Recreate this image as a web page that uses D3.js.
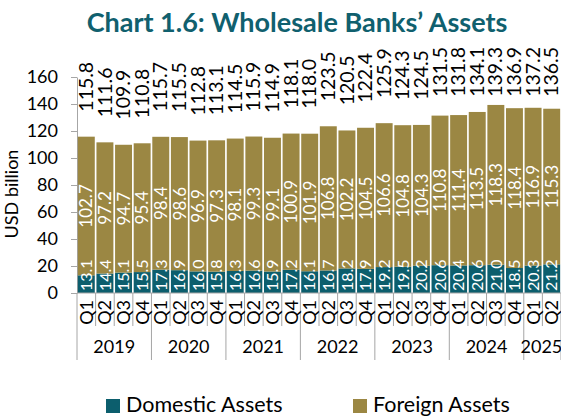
<!DOCTYPE html>
<html>
<head>
<meta charset="utf-8">
<script src="https://cdn.jsdelivr.net/npm/d3@7"></script>
<style>
  body { margin: 0; background: #fff; }
  svg { display: block; font-family: Lato, "Open Sans", sans-serif; }
</style>
</head>
<body>
<svg id="chart" width="561" height="418"></svg>
<script>
// quarters from 2019 Q1 to 2025 Q2
var quarters = ["Q1","Q2","Q3","Q4","Q1","Q2","Q3","Q4","Q1","Q2","Q3","Q4","Q1","Q2","Q3","Q4",
                "Q1","Q2","Q3","Q4","Q1","Q2","Q3","Q4","Q1","Q2"];
var years = ["2019","2020","2021","2022","2023","2024","2025"];
var domestic = [13.1,14.4,15.1,15.5,17.3,16.9,16.0,15.8,16.3,16.6,15.9,17.2,16.1,16.7,18.2,17.9,
                19.2,19.5,20.2,20.6,20.4,20.6,21.0,18.5,20.3,21.2];
var foreign = [102.7,97.2,94.7,95.4,98.4,98.6,96.9,97.3,98.1,99.3,99.1,100.9,101.9,106.8,102.2,104.5,
               106.6,104.8,104.3,110.8,111.4,113.5,118.3,118.4,116.9,115.3];
var totals = [115.8,111.6,109.9,110.8,115.7,115.5,112.8,113.1,114.5,115.9,114.9,118.1,118.0,123.5,120.5,122.4,
              125.9,124.3,124.5,131.5,131.8,134.1,139.3,136.9,137.2,136.5];
var yTicks = [0,20,40,60,80,100,120,140,160];

var colDom = "#0c5e6d", colFor = "#9b8743", axisCol = "#a6a6a6";

var rows = quarters.map(function(q, i) {
    return {id: i, q: q, year: years[Math.floor(i / 4)], domestic: domestic[i], foreign: foreign[i], total: totals[i]};
});

var svg = d3.select("#chart");

var x = d3.scaleBand().domain(rows.map(function(d) { return d.id; }))
    .range([77, 561]).paddingInner(0.09).paddingOuter(0.045);
var y = d3.scaleLinear().domain([0, 160]).range([293, 77]);

// title
svg.append("text")
    .attr("x", 297).attr("y", 32)
    .attr("text-anchor", "middle")
    .attr("font-size", 27).attr("font-weight", "bold")
    .attr("fill", "#10606e")
    .text("Chart 1.6: Wholesale Banks’ Assets");

// y axis
var yAxis = svg.append("g")
    .attr("transform", "translate(77,0)")
    .call(d3.axisLeft(y).tickValues(yTicks).tickSize(6).tickPadding(13).tickSizeOuter(0));
yAxis.select(".domain").attr("stroke", axisCol);
yAxis.selectAll(".tick line").attr("stroke", axisCol);
yAxis.selectAll("text").attr("font-size", 18).attr("font-family", "Lato").attr("fill", "#000");

svg.append("text")
    .attr("transform", "translate(18,194) rotate(-90)")
    .attr("text-anchor", "middle")
    .attr("font-size", 18)
    .text("USD billion");

// stacked bars
var stack = d3.stack().keys(["domestic", "foreign"]);
var series = stack(rows);
var colors = {domestic: colDom, foreign: colFor};

svg.append("g").selectAll("g")
    .data(series)
    .enter().append("g")
    .attr("fill", function(s) { return colors[s.key]; })
    .selectAll("rect")
    .data(function(s) { return s; })
    .enter().append("rect")
    .attr("x", function(d) { return x(d.data.id); })
    .attr("width", x.bandwidth())
    .attr("y", function(d) { return y(d[1]); })
    .attr("height", function(d) { return y(d[0]) - y(d[1]); });

// domestic labels, sitting on the base
svg.append("g").selectAll("text")
    .data(rows)
    .enter().append("text")
    .attr("transform", function(d) { return "translate(" + (x(d.id) + x.bandwidth() / 2) + "," + (y(0) - 2) + ") rotate(-90)"; })
    .attr("dy", "0.36em")
    .attr("font-size", 16)
    .attr("fill", "#fff")
    .text(function(d) { return d.domestic.toFixed(1); });

// foreign labels, centred in segment
svg.append("g").selectAll("text")
    .data(rows)
    .enter().append("text")
    .attr("transform", function(d) {
        var mid = (y(d.domestic) + y(d.domestic + d.foreign)) / 2;
        return "translate(" + (x(d.id) + x.bandwidth() / 2) + "," + mid + ") rotate(-90)";
    })
    .attr("text-anchor", "middle")
    .attr("dy", "0.36em")
    .attr("font-size", 17)
    .attr("fill", "#fff")
    .text(function(d) { return d.foreign.toFixed(1); });

// total labels above bars, pushed down when they would run into the title
svg.append("g").selectAll("text")
    .data(rows)
    .enter().append("text")
    .attr("font-size", 19.5)
    .attr("fill", "#000")
    .attr("dy", "0.34em")
    .text(function(d) { return d.total.toFixed(1); })
    .each(function(d) {
        var len = this.getComputedTextLength();
        var base = Math.max(y(d.total) - 25, 47 + len);
        d3.select(this).attr("transform", "translate(" + (x(d.id) + x.bandwidth() / 2) + "," + base + ") rotate(-90)");
    });

// x axis line and category separators
var xg = svg.append("g");
xg.append("line").attr("x1", 77).attr("x2", 561).attr("y1", 293).attr("y2", 293).attr("stroke", axisCol);
var step = x.step();
var x0 = 77;
d3.range(27).forEach(function(i) {
    var xx = x0 + i * step;
    var yearEdge = (i % 4 === 0) || i === 26;
    xg.append("line")
        .attr("x1", xx).attr("x2", xx)
        .attr("y1", 293).attr("y2", yearEdge ? 360 : 326)
        .attr("stroke", axisCol);
});

xg.selectAll(".q")
    .data(rows)
    .enter().append("text")
    .attr("class", "q")
    .attr("transform", function(d) { return "translate(" + (x(d.id) + x.bandwidth() / 2) + ",300) rotate(-90)"; })
    .attr("text-anchor", "end")
    .attr("dy", "0.36em")
    .attr("font-size", 18)
    .text(function(d) { return d.q; });

xg.selectAll(".yr")
    .data(years)
    .enter().append("text")
    .attr("class", "yr")
    .attr("x", function(yr, i) {
        var a = x0 + i * 4 * step, b = Math.min(x0 + (i + 1) * 4 * step, 559);
        return (a + b) / 2;
    })
    .attr("y", 353)
    .attr("text-anchor", "middle")
    .attr("font-size", 18)
    .text(function(yr) { return yr; });

// legend
var legend = [{name: "Domestic Assets", color: colDom, x: 106}, {name: "Foreign Assets", color: colFor, x: 353}];
var lg = svg.append("g").selectAll("g").data(legend).enter().append("g");
lg.append("rect").attr("x", function(d) { return d.x; }).attr("y", 399).attr("width", 14).attr("height", 14)
    .attr("fill", function(d) { return d.color; });
lg.append("text").attr("x", function(d) { return d.x + 20; }).attr("y", 412)
    .attr("font-size", 21.5)
    .text(function(d) { return d.name; });
</script>
</body>
</html>
